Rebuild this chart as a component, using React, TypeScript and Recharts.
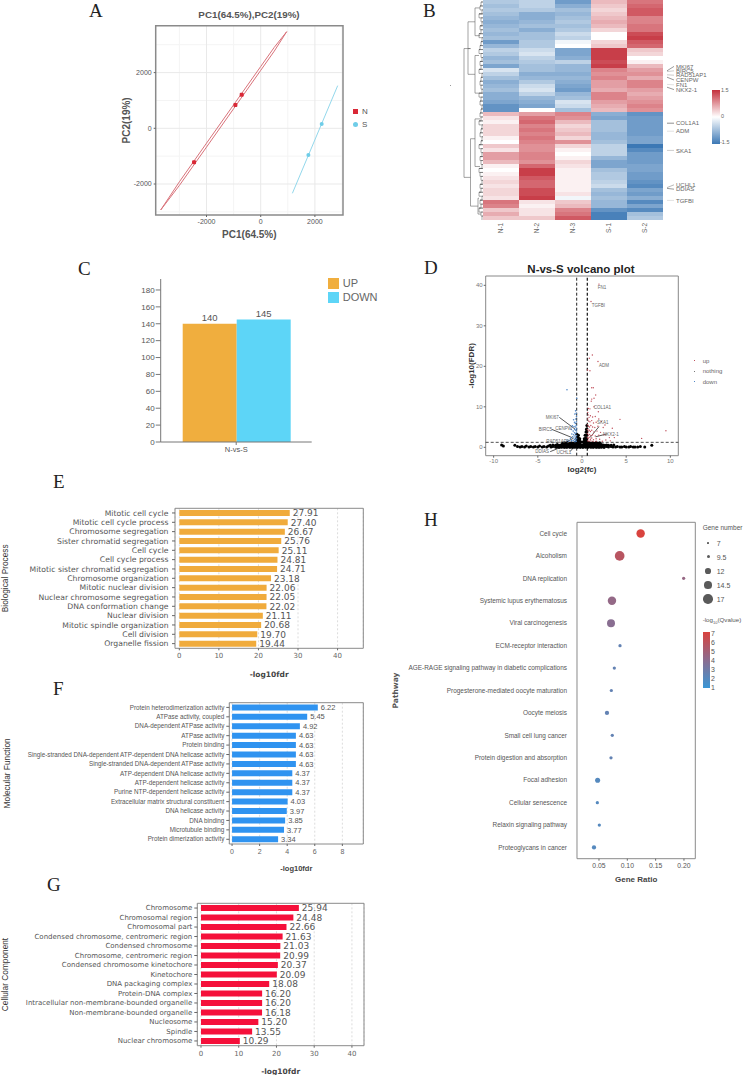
import {
  Bar,
  BarChart,
  CartesianGrid,
  Cell,
  LabelList,
  Legend,
  ReferenceArea,
  ReferenceDot,
  ReferenceLine,
  Scatter,
  ScatterChart,
  XAxis,
  YAxis,
  ZAxis,
} from 'recharts';

const SANS = '"Liberation Sans", Arial, sans-serif';
const WIDE = '"DejaVu Sans", sans-serif';
const SERIF = '"Liberation Serif", serif';

// A: PCA
const pcaN = [
  { x: -2460, y: -1221 },
  { x: -935, y: 838 },
  { x: -701, y: 1209 },
];
const pcaS = [
  { x: 2251, y: 156 },
  { x: 1759, y: -958 },
];
const ellipseN = [
  { x: -3690, y: -2932 },
  { x: -3000, y: -1920 },
  { x: -2000, y: -535 },
  { x: -1000, y: 842 },
  { x: 0, y: 2219 },
  { x: 500, y: 2907 },
  { x: 959, y: 3470 },
  { x: 500, y: 2770 },
  { x: 0, y: 2080 },
  { x: -1000, y: 702 },
  { x: -2000, y: -675 },
  { x: -3000, y: -2050 },
  { x: -3690, y: -2932 },
];
const ellipseS = [
  { x: 1169, y: -2334 },
  { x: 2841, y: 1532 },
];

// B: heatmap, z-scores per row
const heatSamples = ['N-1', 'N-2', 'N-3', 'S-1', 'S-2'];
const heatN1 = [-0.6, -0.7, -0.6, -0.7, -0.8, -0.9, -0.8, -0.7, -0.8, -0.7, -1.1, -0.8, -0.5, -0.6, -0.8, -0.7, -1, -0.3, -0.5, -0.7, -0.9, -0.8, -0.7, -0.9, -0.9, -1, -1.2, -1.2, 0.5, 0.2, 0.1, 0.3, 0.3, 0.3, 0.1, 0, 0.4, 0.2, 0.7, 0.7, 0.5, 0.1, 0, 0.1, 0.2, 0.3, 0.2, 0.3, 0.3, 0.2, 1, 0.9, 0.4, 0.6, 0.4];
const heatN2 = [-0.5, -0.5, -0.6, -0.9, -0.9, -0.8, -0.7, -0.9, -0.7, -0.7, -0.6, -0.6, -0.4, -0.3, -0.5, -0.6, -0.7, -0.7, -0.9, -0.8, -0.6, -0.4, -0.3, -0.5, -0.8, -0.9, -1, 0, 0.7, 1, 1.1, 0.9, 1, 0.9, 1, 0.9, 0.8, 0.8, 0.9, 0.9, 0.8, 1.1, 1.4, 1.4, 1.2, 1.1, 1.1, 1.3, 1.3, 1.4, 0.2, 0.1, 0.2, 0.2, 0.4];
const heatN3 = [-1.1, -0.9, -0.7, -0.8, -0.7, -0.6, -0.7, -0.6, -0.4, -0.5, -0.1, 0, -1, -1, -0.9, -0.5, -0.8, -0.8, -0.9, -0.8, -0.9, -1, -1.1, -0.8, -0.7, -0.3, -0.4, -0.7, 0.9, 0.8, 0.5, 0.3, 0.4, 0.5, 0.3, 0.8, 0.3, 0.1, 0, 0.1, 0.3, 0.2, 0.1, 0.1, 0.1, 0.1, 0.1, 0.1, 0.2, -0.1, 0.4, 0.5, 0.9, 1, 1.2];
const heatS1 = [0.5, 0.4, 0.3, 0.4, 0.5, 0.6, 0.5, 0.3, 0, 0, 0.3, 0.4, 1.4, 1.4, 1.4, 1.3, 1.4, 0.9, 0.8, 0.9, 0.7, 0.7, 0.6, 0.9, 0.9, 0.7, 0.6, 0.5, -0.9, -1, -0.7, -0.7, -0.7, -0.8, -0.8, -0.7, -0.5, -0.5, -0.5, -0.8, -1, -1, -0.7, -0.6, -0.6, -0.5, -0.4, -0.7, -0.8, -0.7, -0.8, -0.8, -1.2, -1.4, -1.4];
const heatS2 = [1, 1.1, 1.2, 1.2, 0.9, 0.9, 1, 1, 1.3, 1.4, 1.2, 1.1, 0.4, 0.3, 0, 0.1, 0.5, 0.7, 0.8, 0.6, 0.9, 0.9, 0.7, 0.6, 0.7, 0.8, 0.9, 0.8, -1.2, -1.1, -1.1, -1.1, -1.1, -1.1, -1, -1, -1.5, -1.3, -1.1, -1.1, -1.1, -1, -1, -1.1, -1.1, -1.2, -1.3, -1, -1.1, -0.9, -1.3, -1, -1.3, -0.7, -0.6];
const heatColumns = [heatN1, heatN2, heatN3, heatS1, heatS2];
const heatRows = heatN1.map((_, row) => ({ row, 'N-1': 1, 'N-2': 1, 'N-3': 1, 'S-1': 1, 'S-2': 1 }));

// dendrogram: branch heights, rows are in heatmap row units
const dendroBranches = [
  [[12.5, 12.25], [19, 12.25], [19, 44.75], [12.5, 44.75]],
  [[8, 5.5], [15, 5.5], [15, 18.75], [8, 18.75]],
  [[3, 2], [8, 2], [8, 9], [3, 9]],
  [[4, 14], [8, 14], [8, 23.5], [4, 23.5]],
  [[8, 35], [12.5, 35], [12.5, 52], [5, 52]],
  [[3, 30], [8, 30], [8, 42], [3, 42]],
  [[4, 50], [5, 50], [5, 54], [2, 54]],
  [[12.5, 12.25], [15, 12.25]],
];
const dendroLeaves = [2, 3, 1, 4, 2, 1, 3, 2, 4, 1, 2, 3, 4, 2, 1, 3, 2, 4, 1, 2, 3, 2, 1, 4, 2, 3, 1, 2, 3, 2, 4, 1, 2, 3, 1, 2, 4, 2, 1, 3, 2, 1, 4, 3, 2, 1, 3, 2, 4, 1, 3, 2, 4, 2, 1];
const dendroComb = dendroLeaves.flatMap((h, row) => [
  { x: h, y: row + 0.5 },
  { x: 0, y: row + 0.5 },
  { x: h, y: row + 0.5 },
  { x: h, y: row + 1.5 },
]);

const geneLabels = [
  { gene: 'MKI67', from: 17.7, to: 16.6, color: '#555' },
  { gene: 'BIRC5', from: 17.9, to: 17.7, color: '#aaa' },
  { gene: 'RAD51AP1', from: 18.7, to: 18.8, color: '#aaa' },
  { gene: 'CENPW', from: 19.3, to: 20, color: '#555' },
  { gene: 'FN1', from: 21.1, to: 21.2, color: '#ccc' },
  { gene: 'NKX2-1', from: 21.8, to: 22.4, color: '#555' },
  { gene: 'COL1A1', from: 30.8, to: 30.8, color: '#444' },
  { gene: 'ADM', from: 32.8, to: 32.8, color: '#ccc' },
  { gene: 'SKA1', from: 37.6, to: 37.6, color: '#aaa' },
  { gene: 'UCHL1', from: 46.9, to: 46.2, color: '#888' },
  { gene: 'DDIAS', from: 47.1, to: 47.3, color: '#555' },
  { gene: 'TGFBI', from: 50.1, to: 50.1, color: '#ccc' },
];

// C: DEG counts
const degGroups = ['N-vs-S'];
const degUp = [140];
const degDown = [145];
const degTicks = [0, 20, 40, 60, 80, 100, 120, 140, 160, 180];
const degData = degGroups.map((group, i) => ({ group, up: degUp[i], down: degDown[i] }));

// D: volcano, [log2 fc, -log10 fdr]
const volcanoUp = [
  [1.92, 40.3], [1.02, 36], [1.17, 22.8], [0.83, 22], [1.81, 21.2], [0.62, 19.1], [0.9, 18.9], [1.1, 14.7], [1.28, 14.7], [1.55, 12.9],
  [1.1, 11.9], [1.36, 12.1], [1.05, 11.4], [0.72, 9.6], [0.9, 9.5], [1.36, 10], [1.85, 8.8], [4.3, 6.9], [9.5, 4.1], [6.75, 2.2],
  [3.43, 4.7], [3.66, 2.4], [3.1, 2.4], [2.6, 5.5], [0.65, 8.6], [0.7, 8], [0.8, 7.4], [0.95, 7.8], [1.2, 7.5], [1.5, 7.6],
  [1.9, 7], [0.65, 7], [0.75, 6.5], [0.9, 6.3], [1.1, 6.6], [1.3, 6], [1.6, 6.2], [2.2, 6.4], [0.62, 5.6], [0.72, 5.2],
  [0.85, 5], [1, 5.4], [1.2, 5], [1.45, 4.9], [1.8, 5.2], [2.4, 4.9], [0.62, 4.4], [0.7, 4], [0.82, 4.2], [0.95, 3.9],
  [1.1, 4.2], [1.35, 3.8], [1.7, 4], [2.1, 3.7], [0.62, 3.4], [0.72, 3], [0.85, 3.2], [1, 2.9], [1.2, 3.1], [1.5, 2.8],
  [1.9, 3], [2.5, 3.1], [0.62, 2.4], [0.7, 2.1], [0.8, 2.5], [0.95, 2], [1.1, 2.3], [1.3, 1.9], [1.6, 2.1], [2, 2],
  [2.7, 1.8], [0.65, 1.6], [0.8, 1.5], [1, 1.6], [1.25, 1.5], [1.6, 1.5], [2.3, 1.5], [3.2, 1.6],
];
const volcanoDown = [
  [-1.7, 14.2], [-0.6, 12.1], [-0.72, 9], [-0.65, 8.4], [-0.8, 8.2], [-0.62, 7.6], [-0.7, 7], [-0.95, 6.8], [-0.62, 6.3], [-0.75, 5.9],
  [-0.85, 6.2], [-0.65, 5.4], [-0.72, 5], [-0.9, 5.1], [-1.1, 5.3], [-0.62, 4.6], [-0.7, 4.2], [-0.82, 4.4], [-1, 4], [-1.2, 4.4],
  [-0.62, 3.8], [-0.72, 3.4], [-0.85, 3.6], [-0.95, 3.1], [-1.15, 3.3], [-0.62, 2.9], [-0.7, 2.5], [-0.8, 2.8], [-0.92, 2.3], [-1.05, 2.6],
  [-1.3, 2.2], [-0.62, 2.1], [-0.72, 1.8], [-0.85, 1.9], [-1, 1.7], [-1.2, 1.6], [-1.5, 1.5], [-0.65, 1.5], [-0.8, 1.4], [-1.7, 1.8],
];
const volcanoNothing = [
  [-9.1, 0.6], [-8.9, 0.3], [-7.6, 0.5], [7.9, 0.5], [-7.3, 0.2], [-7, 0.1], [-6.8, 0.2], [-6.5, 0.1], [-6.3, 0.3], [-6, 0.1],
  [-5.8, 0.2], [-5.5, 0.1], [-5.3, 0.2], [-5, 0.1], [-4.8, 0.3], [-4.5, 0.1], [-4.3, 0.2], [-4, 0.1], [-3.8, 0.3], [-3.5, 0.1],
  [-3.3, 0.2], [-3, 0.1], [-2.8, 0.2], [-2.5, 0.1], [-2.3, 0.2], [-2, 0.1], [-1.8, 0.1], [-1.5, 0.2], [-1.3, 0.1], [-1, 0.1],
  [-0.8, 0.2], [-0.5, 0.1], [-0.2, 0.1], [0.1, 0.1], [0.3, 0.2], [0.6, 0.1], [0.9, 0.2], [1.2, 0.1], [1.5, 0.2], [1.7, 0.1],
  [2, 0.1], [2.3, 0.2], [2.5, 0.1], [2.8, 0.2], [3, 0.1], [3.3, 0.2], [3.5, 0.1], [3.8, 0.1], [4, 0.2], [4.3, 0.1],
  [4.5, 0.1], [4.8, 0.2], [5, 0.1], [5.3, 0.1], [5.5, 0.2], [5.8, 0.1], [6, 0.1], [6.3, 0.1], [6.6, 0.2], [7.1, 0.1],
  [-3.6, 0.5], [-3.3, 0.6], [-3, 0.5], [-2.8, 0.7], [-2.6, 0.5], [-2.4, 0.6], [-2.2, 0.7], [-2, 0.5], [-1.8, 0.8], [-1.6, 0.6],
  [-1.4, 0.7], [-1.2, 0.5], [-1, 0.8], [-0.8, 0.6], [-0.6, 0.7], [-0.4, 0.5], [-0.2, 0.6], [0, 0.5], [0.2, 0.6], [0.4, 0.5],
  [0.6, 0.7], [0.8, 0.6], [1, 0.8], [1.2, 0.5], [1.4, 0.7], [1.6, 0.6], [1.8, 0.7], [2, 0.5], [2.2, 0.7], [2.4, 0.6],
  [2.6, 0.5], [2.8, 0.6], [3, 0.5], [3.3, 0.5], [3.6, 0.6], [-2.2, 1], [-2, 1.1], [-1.8, 1], [-1.6, 1.2], [-1.4, 1],
  [-1.2, 1.1], [-1, 1], [-0.8, 1.2], [-0.6, 1.1], [-0.4, 1], [-0.2, 0.9], [0.2, 0.9], [0.4, 1], [0.6, 1.1], [0.8, 1.2],
  [1, 1], [1.2, 1.1], [1.4, 1], [1.6, 1.2], [1.8, 1], [2, 1.1],
  [-2.9, 0], [-2.6, 0], [-2.3, 0], [-2, 0], [-1.7, 0], [-1.4, 0], [-1.1, 0], [-0.8, 0], [-0.5, 0], [-0.2, 0],
  [0.1, 0], [0.4, 0], [0.7, 0], [1, 0], [1.3, 0], [1.6, 0], [1.9, 0], [2.2, 0], [2.5, 0], [-2.7, 0.3],
  [-2.4, 0.35], [-2.1, 0.3], [-1.9, 0.35], [-1.7, 0.3], [-1.5, 0.35], [-1.3, 0.3], [-1.1, 0.35], [-0.9, 0.3], [-0.7, 0.35], [-0.5, 0.3],
  [-0.3, 0.35], [-0.1, 0.3], [0.1, 0.35], [0.3, 0.3], [0.5, 0.35], [0.7, 0.3], [0.9, 0.35], [1.1, 0.3], [1.3, 0.35], [1.5, 0.3],
  [1.7, 0.35], [1.9, 0.3], [2.1, 0.35],
  [-0.58, 1.5], [-0.58, 2.2], [-0.5, 2.7], [-0.58, 3.2], [-0.55, 1.8], [-0.45, 1.5], [-0.45, 2.2], [-0.4, 3], [-0.35, 1.5], [-0.35, 2.2],
  [-0.25, 1.5], [-0.25, 2.1], [-0.15, 1.4], [0.55, 1.5], [0.55, 2.2], [0.55, 3], [0.55, 3.8], [0.55, 4.6], [0.55, 5.4], [0.45, 1.5],
  [0.45, 2.2], [0.45, 3], [0.45, 3.8], [0.5, 4.4], [0.35, 1.5], [0.35, 2.2], [0.35, 3], [0.25, 1.5], [0.25, 2.1], [0.15, 1.4],
];
const volcanoLabels = [
  { gene: 'FN1', x: 2.26, y: 39.5 },
  { gene: 'TGFBI', x: 1.85, y: 35 },
  { gene: 'ADM', x: 2.5, y: 20.2 },
  { gene: 'COL1A1', x: 2.3, y: 9.8 },
  { gene: 'SKA1', x: 2.34, y: 6.1 },
  { gene: 'NKX2-1', x: 3.28, y: 3.3 },
  { gene: 'MKI67', x: -3.36, y: 7.4 },
  { gene: 'BIRC5', x: -4.15, y: 4.44 },
  { gene: 'CENPW', x: -2.08, y: 4.7 },
  { gene: 'RAD51AP1', x: -2.75, y: 1.56 },
  { gene: 'DDIAS', x: -4.5, y: -1.07 },
  { gene: 'UCHL1', x: -2.04, y: -1.15 },
];
const volcanoLeaders = [
  [[-2.57, 7.4], [-0.79, 4.5]],
  [[-3.43, 4.44], [-1.09, 2.37]],
  [[-1.9, 1.2], [-1, 2.2]],
  [[-3.6, -1.07], [-1.55, 0.74]],
  [[-1.36, -1.07], [-0.68, 0.58]],
  [[1.92, 5.1], [0.9, 2.4]],
  [[2.8, 3.3], [1.55, 2.6]],
];
const toXY = (pairs: number[][]) => pairs.map(([x, y]) => ({ x, y }));

// E: biological process
const bpTerms = ['Mitotic cell cycle', 'Mitotic cell cycle process', 'Chromosome segregation', 'Sister chromatid segregation', 'Cell cycle', 'Cell cycle process', 'Mitotic sister chromatid segregation', 'Chromosome organization', 'Mitotic nuclear division', 'Nuclear chromosome segregation', 'DNA conformation change', 'Nuclear division', 'Mitotic spindle organization', 'Cell division', 'Organelle fission'];
const bpValues = [27.91, 27.4, 26.67, 25.76, 25.11, 24.81, 24.71, 23.18, 22.06, 22.05, 22.02, 21.11, 20.68, 19.7, 19.44];

// F: molecular function
const mfTerms = ['Protein heterodimerization activity', 'ATPase activity, coupled', 'DNA-dependent ATPase activity', 'ATPase activity', 'Protein binding', 'Single-stranded DNA-dependent ATP-dependent DNA helicase activity', 'Single-stranded DNA-dependent ATPase activity', 'ATP-dependent DNA helicase activity', 'ATP-dependent helicase activity', 'Purine NTP-dependent helicase activity', 'Extracellular matrix structural constituent', 'DNA helicase activity', 'DNA binding', 'Microtubule binding', 'Protein dimerization activity'];
const mfValues = [6.22, 5.45, 4.92, 4.63, 4.63, 4.63, 4.63, 4.37, 4.37, 4.37, 4.03, 3.97, 3.85, 3.77, 3.34];

// G: cellular component
const ccTerms = ['Chromosome', 'Chromosomal region', 'Chromosomal part', 'Condensed chromosome, centromeric region', 'Condensed chromosome', 'Chromosome, centromeric region', 'Condensed chromosome kinetochore', 'Kinetochore', 'DNA packaging complex', 'Protein-DNA complex', 'Intracellular non-membrane-bounded organelle', 'Non-membrane-bounded organelle', 'Nucleosome', 'Spindle', 'Nuclear chromosome'];
const ccValues = [25.94, 24.48, 22.66, 21.63, 21.03, 20.99, 20.37, 20.09, 18.08, 16.2, 16.2, 16.18, 15.2, 13.55, 10.29];

// H: KEGG pathways
const pathways = ['Cell cycle', 'Alcoholism', 'DNA replication', 'Systemic lupus erythematosus', 'Viral carcinogenesis', 'ECM-receptor interaction', 'AGE-RAGE signaling pathway in diabetic complications', 'Progesterone-mediated oocyte maturation', 'Oocyte meiosis', 'Small cell lung cancer', 'Protein digestion and absorption', 'Focal adhesion', 'Cellular senescence', 'Relaxin signaling pathway', 'Proteoglycans in cancer'];
const geneRatio = [0.1235, 0.0865, 0.1994, 0.0729, 0.0712, 0.0871, 0.0771, 0.0718, 0.0641, 0.0735, 0.0712, 0.0476, 0.0471, 0.0506, 0.0412];
const geneNumber = [16, 19, 8, 16, 15, 8, 8, 8, 9, 8, 8, 10, 8, 8, 9];
const qValue = [7, 5.7, 4.4, 4.3, 3.9, 2.5, 2.5, 2.5, 2.5, 2.5, 2.5, 2, 2, 2, 2];
const pathwayData = pathways.map((pathway, i) => ({ x: geneRatio[i], y: i + 1, z: geneNumber[i] }));
const pathwayRows = pathways.map((_, i) => i + 1);
const sizeLegend = [
  { label: '7', d: 1.7 },
  { label: '9.5', d: 3.3 },
  { label: '12', d: 5.7 },
  { label: '14.5', d: 7.7 },
  { label: '17', d: 9.7 },
];
const qLegend = [7, 6, 5, 4, 3, 2, 1];

const mix = (a: number[], b: number[], t: number) => {
  const c = a.map((v, i) => Math.round(v + (b[i] - v) * t));
  return `rgb(${c[0]},${c[1]},${c[2]})`;
};
const zColor = (z: number) =>
  z < 0 ? mix([255, 255, 255], [60, 120, 181], Math.min(-z / 1.5, 1)) : mix([255, 255, 255], [196, 48, 60], Math.min(z / 1.5, 1));
const qColor = (q: number) =>
  q < 4 ? mix([58, 151, 214], [140, 109, 143], (q - 1) / 3) : mix([140, 109, 143], [217, 67, 62], (q - 4) / 3);

function Note({ x, y, size = 7, color = '#555', bold = false, center = false, family = SANS, children }: any) {
  return (
    <div
      style={{
        position: 'absolute',
        left: x,
        top: y,
        fontSize: size,
        lineHeight: 1,
        color,
        fontFamily: family,
        fontWeight: bold ? 'bold' : 'normal',
        whiteSpace: 'nowrap',
        transform: center ? 'translate(-50%, -50%)' : 'translateY(-50%)',
      }}
    >
      {children}
    </div>
  );
}

const noDot = () => <g />;

// Recharts wraps long y ticks to the axis width, these must stay on one line
function OneLineTick({ x, y, payload, size, family, labels }: any) {
  return (
    <text x={x} y={y} dy="0.35em" textAnchor="end" fontSize={size} fontFamily={family} fill="#555">
      {labels ? labels[payload.value - 1] : payload.value}
    </text>
  );
}

function SampleTick({ x, payload }: any) {
  const label = heatSamples[Math.floor(payload.value)];
  return (
    <text x={x} y={228} dy="0.35em" textAnchor="middle" transform={`rotate(-90 ${x} 228)`} fontSize={6.5} fontFamily={SANS} fill="#666">
      {label}
    </text>
  );
}

function PcaPanel() {
  return (
    <div style={{ position: 'absolute', left: 100, top: 0 }}>
      <ScatterChart width={250} height={245} margin={{ top: 25.7, right: 7, bottom: 0, left: 0 }}>
        <CartesianGrid stroke="#f4f4f4" verticalValues={[-3000, -1000, 1000, 3000]} horizontalValues={[-3000, -1000, 1000, 3000]} />
        <CartesianGrid stroke="#e9e9e9" verticalValues={[-2000, 0, 2000]} horizontalValues={[-2000, 0, 2000]} />
        <XAxis
          type="number"
          dataKey="x"
          domain={[-3875, 3037]}
          ticks={[-2000, 0, 2000]}
          height={30}
          axisLine={false}
          tickSize={2}
          tick={{ fontSize: 7, fill: '#555', fontFamily: SANS }}
          label={{ value: 'PC1(64.5%)', position: 'insideBottom', offset: 7, fontSize: 10, fontWeight: 'bold', fill: '#555', fontFamily: SANS }}
        />
        <YAxis
          type="number"
          dataKey="y"
          domain={[-3113, 3684]}
          ticks={[-2000, 0, 2000]}
          width={55.7}
          axisLine={false}
          tickSize={2}
          tick={{ fontSize: 7, fill: '#555', fontFamily: SANS }}
          label={{ value: 'PC2(19%)', angle: -90, position: 'insideLeft', offset: 26, fontSize: 10, fontWeight: 'bold', fill: '#555', fontFamily: SANS, style: { textAnchor: 'middle' } }}
        />
        <ReferenceArea x1={-3875} x2={3037} y1={-3113} y2={3684} fill="none" stroke="#8a8a8a" strokeWidth={1.5} />
        <Scatter data={ellipseN} line={{ stroke: '#d9727a', strokeWidth: 1 }} shape={noDot} isAnimationActive={false} />
        <Scatter data={ellipseS} line={{ stroke: '#93d8ec', strokeWidth: 1 }} shape={noDot} isAnimationActive={false} />
        <Scatter data={pcaN} shape={(p: any) => <rect x={p.cx - 2} y={p.cy - 2} width={4} height={4} rx={1} fill="#d92836" />} isAnimationActive={false} />
        <Scatter data={pcaS} shape={(p: any) => <circle cx={p.cx} cy={p.cy} r={2} fill="#6fcde8" />} isAnimationActive={false} />
      </ScatterChart>
    </div>
  );
}

function HeatmapPanel() {
  return (
    <>
      <div style={{ position: 'absolute', left: 460, top: 0 }}>
        <ScatterChart width={23} height={220} margin={{ top: 0, right: 0, bottom: 0, left: 4 }}>
          <XAxis type="number" dataKey="x" domain={[0, 19]} reversed hide />
          <YAxis type="number" dataKey="y" domain={[0, 55]} reversed hide />
          {dendroBranches.map((branch, i) => (
            <Scatter key={i} data={toXY(branch)} line={{ stroke: '#666', strokeWidth: 0.6 }} shape={noDot} isAnimationActive={false} />
          ))}
          <Scatter data={dendroComb} line={{ stroke: '#555', strokeWidth: 0.5 }} shape={noDot} isAnimationActive={false} />
        </ScatterChart>
      </div>
      <div style={{ position: 'absolute', left: 483, top: 0 }}>
        <BarChart width={180} height={240} data={heatRows} layout="vertical" barCategoryGap={0} margin={{ top: 0, right: 0, bottom: 0, left: 0 }}>
          <XAxis
            type="number"
            domain={[0, 5]}
            ticks={[0.5, 1.5, 2.5, 3.5, 4.5]}
            height={20}
            axisLine={false}
            tickLine={false}
            interval={0}
            tick={<SampleTick />}
          />
          <YAxis type="category" dataKey="row" hide />
          {heatSamples.map((sample, c) => (
            <Bar key={sample} dataKey={sample} stackId="h" isAnimationActive={false}>
              {heatColumns[c].map((z, i) => (
                <Cell key={i} fill={zColor(z)} />
              ))}
            </Bar>
          ))}
        </BarChart>
      </div>
      <div style={{ position: 'absolute', left: 667, top: 0 }}>
        <ScatterChart width={70} height={220} margin={{ top: 0, right: 63, bottom: 0, left: 0 }}>
          <XAxis type="number" dataKey="x" domain={[0, 7]} hide />
          <YAxis type="number" dataKey="y" domain={[0, 55]} reversed hide />
          <Scatter data={geneLabels.map((g) => ({ x: 7, y: g.to }))} shape={noDot} isAnimationActive={false} />
          {geneLabels.map((g) => (
            <ReferenceLine key={g.gene} segment={[{ x: 0, y: g.from }, { x: 7, y: g.to }]} stroke={g.color} strokeWidth={0.6} />
          ))}
          {geneLabels.map((g) => (
            <ReferenceDot
              key={g.gene}
              x={7}
              y={g.to}
              r={0}
              stroke="none"
              label={{ value: g.gene, position: 'right', offset: 2, fontSize: 6, fill: '#666', fontFamily: SANS }}
            />
          ))}
        </ScatterChart>
      </div>
      <div style={{ position: 'absolute', left: 712, top: 90, width: 7.5, height: 54, background: 'linear-gradient(#c4303c, #ffffff 50%, #3c78b5)' }} />
      <Note x={721} y={91} size={5.5} color="#666">1.5</Note>
      <Note x={721} y={117} size={5.5} color="#666">0</Note>
      <Note x={720} y={143} size={5.5} color="#666">-1.5</Note>
      <div style={{ position: 'absolute', left: 450, top: 85, width: 1, height: 1, background: '#999' }} />
    </>
  );
}

function DegPanel() {
  return (
    <div style={{ position: 'absolute', left: 100, top: 270 }}>
      <BarChart width={290} height={190} data={degData} barGap={0} barSize={54} margin={{ top: 9, right: 78.3, bottom: 0, left: 0 }}>
        <XAxis
          dataKey="group"
          height={18}
          stroke="#777"
          strokeWidth={1}
          tickSize={3}
          tick={{ fontSize: 7.5, fill: '#555', fontFamily: SANS }}
        />
        <YAxis
          type="number"
          domain={[0, 193]}
          ticks={degTicks}
          width={60.7}
          stroke="#777"
          tickSize={5}
          tickMargin={1}
          interval={0}
          tick={{ fontSize: 8, fill: '#555', fontFamily: SANS }}
        />
        <Legend
          layout="vertical"
          align="center"
          verticalAlign="middle"
          iconType="square"
          iconSize={11}
          itemSorter={null}
          wrapperStyle={{ left: 227.7, top: 5.5, width: 62, fontSize: 11, fontFamily: SANS, lineHeight: '14px', color: '#666' }}
          formatter={(value: string) => <span style={{ color: '#666' }}>{value}</span>}
        />
        <Bar dataKey="up" name="UP" fill="#f0ae3e" isAnimationActive={false}>
          <LabelList dataKey="up" position="top" offset={3} fontSize={9.5} fill="#555" fontFamily={SANS} />
        </Bar>
        <Bar dataKey="down" name="DOWN" fill="#5dd5f7" isAnimationActive={false}>
          <LabelList dataKey="down" position="top" offset={3} fontSize={9.5} fill="#555" fontFamily={SANS} />
        </Bar>
      </BarChart>
    </div>
  );
}

function VolcanoPanel() {
  return (
    <>
      <div style={{ position: 'absolute', left: 450, top: 260 }}>
        <ScatterChart width={240} height={215} margin={{ top: 16, right: 11.7, bottom: 0, left: 0 }}>
          <XAxis
            type="number"
            dataKey="x"
            domain={[-10.9, 10.9]}
            ticks={[-10, -5, 0, 5, 10]}
            height={19.3}
            axisLine={false}
            tickSize={2}
            tickMargin={1}
            tick={{ fontSize: 6, fill: '#777', fontFamily: SANS }}
            label={{ value: 'log2(fc)', position: 'insideBottom', offset: 3, fontSize: 8, fontWeight: 'bold', fill: '#333', fontFamily: SANS }}
          />
          <YAxis
            type="number"
            dataKey="y"
            domain={[-2.07, 42.3]}
            ticks={[0, 10, 20, 30, 40]}
            width={35.7}
            axisLine={false}
            tickSize={2}
            tickMargin={1}
            tick={{ fontSize: 6, fill: '#777', fontFamily: SANS }}
            label={{ value: '-log10(FDR)', angle: -90, position: 'insideLeft', offset: 21, fontSize: 8, fontWeight: 'bold', fill: '#333', fontFamily: SANS, style: { textAnchor: 'middle' } }}
          />
          <ReferenceArea x1={-10.9} x2={10.9} y1={-2.07} y2={42.3} fill="none" stroke="#888" strokeWidth={1} />
          <Scatter data={toXY(volcanoNothing)} shape={(p: any) => <circle cx={p.cx} cy={p.cy} r={1.5} fill="#000" />} isAnimationActive={false} />
          <Scatter data={toXY(volcanoUp)} shape={(p: any) => <circle cx={p.cx} cy={p.cy} r={0.7} fill="#c0505c" />} isAnimationActive={false} />
          <Scatter data={toXY(volcanoDown)} shape={(p: any) => <circle cx={p.cx} cy={p.cy} r={0.8} fill="#4f86c6" />} isAnimationActive={false} />
          <ReferenceLine x={-0.6} stroke="#222" strokeWidth={1} strokeDasharray="3 2" />
          <ReferenceLine x={0.6} stroke="#111" strokeWidth={1.2} strokeDasharray="3 2" />
          <ReferenceLine y={1.23} stroke="#222" strokeWidth={0.8} strokeDasharray="3 2" />
          {volcanoLeaders.map((l, i) => (
            <ReferenceLine key={i} segment={toXY(l)} stroke="#111" strokeWidth={0.7} />
          ))}
          {volcanoLabels.map((l) => (
            <ReferenceDot
              key={l.gene}
              x={l.x}
              y={l.y}
              r={0}
              stroke="none"
              label={{ value: l.gene, position: 'center', fontSize: 4.5, fill: '#666', fontFamily: SANS }}
            />
          ))}
        </ScatterChart>
      </div>
      <Note x={581} y={270} size={11.5} bold color="#222" center>N-vs-S volcano plot</Note>
      <div style={{ position: 'absolute', left: 693.5, top: 360, width: 1, height: 1, background: '#c0505c' }} />
      <div style={{ position: 'absolute', left: 693.5, top: 370.5, width: 1, height: 1, background: '#777' }} />
      <div style={{ position: 'absolute', left: 693.5, top: 381, width: 1, height: 1, background: '#4f86c6' }} />
      <Note x={702.7} y={361} size={6} color="#666">up</Note>
      <Note x={702.7} y={371} size={6} color="#666">nothing</Note>
      <Note x={702.7} y={381.5} size={6} color="#666">down</Note>
    </>
  );
}

function GoPanel({ terms, values, color, top, height, yWidth, plotRight, plotTop, xHeight, domain, ticks, family, termSize, termMargin = 2, valueSize, title, titleOffset, xTitleOffset }: any) {
  const data = terms.map((term: string, i: number) => ({ term, value: values[i] }));
  return (
    <div style={{ position: 'absolute', left: 0, top }}>
      <BarChart
        width={372}
        height={height}
        data={data}
        layout="vertical"
        barCategoryGap="18%"
        margin={{ top: plotTop, right: 372 - plotRight, bottom: 0, left: 0 }}
      >
        <CartesianGrid horizontal={false} stroke="#dcdcdc" strokeDasharray="2 2" />
        <XAxis
          type="number"
          domain={domain}
          ticks={ticks}
          height={xHeight}
          axisLine={false}
          tickSize={2}
          tickMargin={3}
          tick={{ fontSize: 7, fill: '#666', fontFamily: family }}
          label={{ value: '-log10fdr', position: 'insideBottom', offset: xTitleOffset, fontSize: 7.5, fontWeight: 'bold', fill: '#444', fontFamily: family }}
        />
        <YAxis
          type="category"
          dataKey="term"
          width={yWidth}
          interval={0}
          axisLine={false}
          tickSize={3}
          tickMargin={termMargin}
          tick={<OneLineTick size={termSize} family={family} />}
          label={{ value: title, angle: -90, position: 'insideLeft', offset: titleOffset, fontSize: 8.3, fill: '#333', fontFamily: SANS, style: { textAnchor: 'middle' } }}
        />
        <ReferenceArea x1={domain[0]} x2={domain[1]} fill="none" stroke="#8a8a8a" strokeWidth={1} />
        <Bar dataKey="value" fill={color} isAnimationActive={false}>
          <LabelList
            dataKey="value"
            position="right"
            offset={3}
            formatter={(v: number) => v.toFixed(2)}
            fontSize={valueSize}
            fill="#555"
            fontFamily={family}
          />
        </Bar>
      </BarChart>
    </div>
  );
}

function PathwayPanel() {
  return (
    <>
      <div style={{ position: 'absolute', left: 370, top: 500 }}>
        <ScatterChart width={340} height={390} margin={{ top: 22.3, right: 14.7, bottom: 0, left: 0 }}>
          <XAxis
            type="number"
            dataKey="x"
            domain={[0.0112, 0.22]}
            ticks={[0.05, 0.1, 0.15, 0.2]}
            tickFormatter={(v: number) => v.toFixed(2)}
            height={31.3}
            axisLine={false}
            tickSize={2}
            tickMargin={2}
            tick={{ fontSize: 6.8, fill: '#555', fontFamily: SANS }}
            label={{ value: 'Gene Ratio', position: 'insideBottom', offset: 8, fontSize: 8, fontWeight: 'bold', fill: '#444', fontFamily: SANS }}
          />
          <YAxis
            type="number"
            dataKey="y"
            domain={[0.5, 15.5]}
            ticks={pathwayRows}
            reversed
            interval={0}
            width={207}
            axisLine={false}
            tickLine={false}
            tickMargin={4}
            tick={<OneLineTick size={6.45} family={SANS} labels={pathways} />}
            label={{ value: 'Pathway', angle: -90, position: 'insideLeft', offset: 25, fontSize: 7.5, fontWeight: 'bold', fill: '#555', fontFamily: WIDE, style: { textAnchor: 'middle' } }}
          />
          <ZAxis type="number" dataKey="z" domain={[7, 17]} range={[2.3, 74]} />
          <ReferenceArea x1={0.0112} x2={0.22} y1={0.5} y2={15.5} fill="none" stroke="#8a8a8a" strokeWidth={1} />
          <Scatter data={pathwayData} isAnimationActive={false}>
            {pathwayData.map((_, i) => (
              <Cell key={i} fill={qColor(qValue[i])} />
            ))}
          </Scatter>
        </ScatterChart>
      </div>
      <Note x={702.7} y={528} size={6.5}>Gene number</Note>
      {sizeLegend.map((s, i) => (
        <div key={s.label}>
          <div
            style={{
              position: 'absolute',
              left: 708.3 - s.d / 2,
              top: 542.7 + i * 14 - s.d / 2,
              width: s.d,
              height: s.d,
              borderRadius: '50%',
              background: '#5a5a5a',
            }}
          />
          <Note x={716.7} y={542.7 + i * 14} size={7}>{s.label}</Note>
        </div>
      ))}
      <Note x={702.7} y={620.7} size={6.2}>
        -log<sub style={{ fontSize: 4 }}>10</sub>(Qvalue)
      </Note>
      <div style={{ position: 'absolute', left: 702.7, top: 631.7, width: 7.3, height: 56.6, background: 'linear-gradient(#d9433e, #8c6d8f 50%, #3a97d6)' }} />
      {qLegend.map((q, i) => (
        <Note key={q} x={711} y={633.3 + i * 8.9} size={7}>{q}</Note>
      ))}
    </>
  );
}

const panelLetters = [
  { letter: 'A', x: 89, y: 9.5 },
  { letter: 'B', x: 423, y: 9.5 },
  { letter: 'C', x: 78, y: 268 },
  { letter: 'D', x: 424, y: 267 },
  { letter: 'E', x: 53, y: 481 },
  { letter: 'F', x: 53, y: 688 },
  { letter: 'G', x: 47, y: 884 },
  { letter: 'H', x: 424, y: 519 },
];

export default function App() {
  return (
    <div style={{ position: 'absolute', left: 0, top: 0, width: 744, height: 1075, background: '#fff', overflow: 'hidden' }}>
      <Note x={249} y={15} size={9.8} bold center>PC1(64.5%),PC2(19%)</Note>
      <PcaPanel />
      <Note x={353} y={112} size={8}>
        <span style={{ display: 'inline-block', width: 5, height: 5, background: '#d92836', marginRight: 4 }} />N
      </Note>
      <Note x={353} y={125} size={8}>
        <span style={{ display: 'inline-block', width: 5, height: 5, borderRadius: '50%', background: '#6fcde8', marginRight: 4 }} />S
      </Note>
      <HeatmapPanel />
      <DegPanel />
      <VolcanoPanel />
      <GoPanel
        terms={bpTerms}
        values={bpValues}
        color="#f0ab3c"
        top={500}
        height={185}
        yWidth={175}
        plotRight={363.3}
        plotTop={8.3}
        xHeight={36.7}
        domain={[-1.09, 46.5]}
        ticks={[0, 10, 20, 30, 40]}
        family={WIDE}
        termSize={7.7}
        termMargin={3.5}
        valueSize={9}
        title="Biological Process"
        titleOffset={5}
        xTitleOffset={8.5}
      />
      <GoPanel
        terms={mfTerms}
        values={mfValues}
        color="#2f93f0"
        top={695}
        height={182}
        yWidth={229.3}
        plotRight={363.3}
        plotTop={7.7}
        xHeight={33}
        domain={[-0.2, 9.52]}
        ticks={[0, 2, 4, 6, 8]}
        family={SANS}
        termSize={6.3}
        valueSize={7.5}
        title="Molecular Function"
        titleOffset={7}
        xTitleOffset={6}
      />
      <GoPanel
        terms={ccTerms}
        values={ccValues}
        color="#f5103a"
        top={895}
        height={180}
        yWidth={197.3}
        plotRight={364}
        plotTop={8.3}
        xHeight={29.3}
        domain={[-0.98, 43.2]}
        ticks={[0, 10, 20, 30, 40]}
        family={WIDE}
        termSize={7}
        valueSize={9}
        title="Cellular Component"
        titleOffset={5}
        xTitleOffset={1.5}
      />
      <PathwayPanel />
      {panelLetters.map((p) => (
        <Note key={p.letter} x={p.x} y={p.y} size={19} color="#222" family={SERIF}>{p.letter}</Note>
      ))}
    </div>
  );
}
